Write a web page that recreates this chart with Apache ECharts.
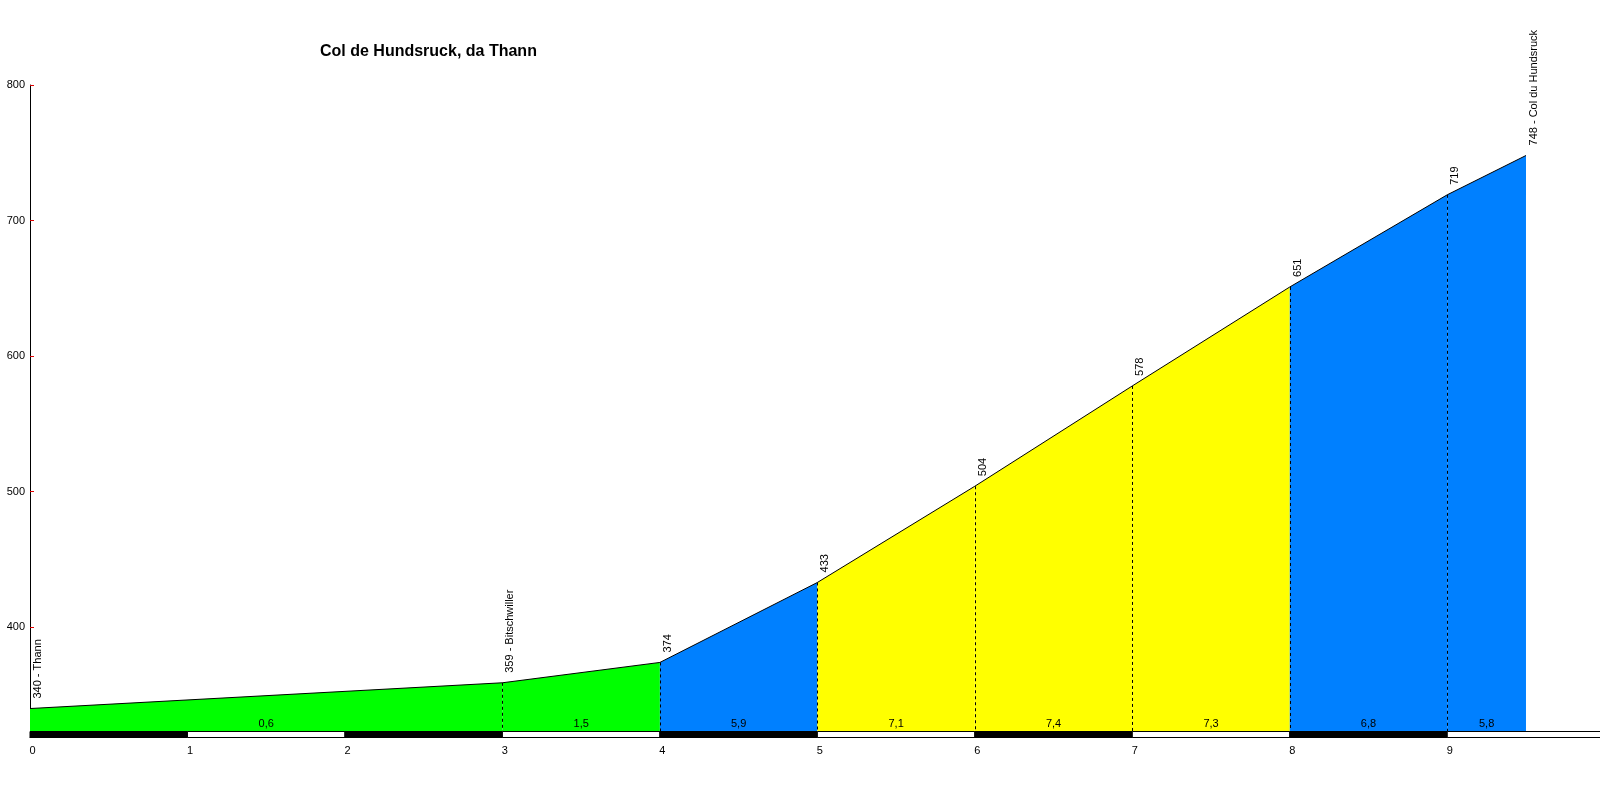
<!DOCTYPE html>
<html>
<head>
<meta charset="utf-8">
<script src="https://cdn.jsdelivr.net/npm/echarts@6/dist/echarts.min.js"></script>
<style>html,body{margin:0;padding:0;background:#fff}#c{width:1600px;height:800px}</style>
</head>
<body>
<div id="c"></div>
<script>
// ---- data ----
const title = 'Col de Hundsruck, da Thann';
const kms = [0, 3, 4, 5, 6, 7, 8, 9, 9.5];
const elev = [340, 359, 374, 433, 504, 578, 651, 719, 748];
const pointNames = ['Thann', 'Bitschwiller', '', '', '', '', '', '', 'Col du Hundsruck'];
const gradients = ['0,6', '1,5', '5,9', '7,1', '7,4', '7,3', '6,8', '5,8'];
const segColors = ['#00ff00', '#00ff00', '#0080ff', '#ffff00', '#ffff00', '#ffff00', '#0080ff', '#0080ff'];
const dashedKms = [3, 4, 5, 6, 7, 8, 9];
const stripKms = [0, 1, 2, 3, 4, 5, 6, 7, 8, 9, 10];
const yTicks = [400, 500, 600, 700, 800];
const xTicks = [0, 1, 2, 3, 4, 5, 6, 7, 8, 9];

const yMin = 319, yMax = 800, xMax = 9.97;
const FONT = '"Liberation Sans", Arial, sans-serif';
const STRIP = 6;

const chart = echarts.init(document.getElementById('c'), null, {renderer: 'canvas'});

const series = [];
// coloured profile segments
for (let i = 0; i < kms.length - 1; i++) {
  series.push({
    type: 'line',
    data: [[kms[i], elev[i]], [kms[i + 1], elev[i + 1]]],
    symbol: 'none',
    lineStyle: {color: '#000', width: 1},
    areaStyle: {color: segColors[i], opacity: 1, origin: 'start'},
    z: 2
  });
}
// dashed verticals
series.push({
  type: 'custom',
  clip: false,
  z: 3,
  data: dashedKms.map(k => [k, elev[kms.indexOf(k)]]),
  renderItem: (params, api) => {
    const top = api.coord([api.value(0), api.value(1)]);
    const bot = api.coord([api.value(0), yMin]);
    const x = Math.round(top[0]) + 0.5;
    return {type: 'line', shape: {x1: x, y1: top[1], x2: x, y2: bot[1] - STRIP},
      style: {stroke: '#000', lineWidth: 1, lineDash: [3, 3]}};
  }
});
// km strip
series.push({
  type: 'custom',
  clip: false,
  z: 5,
  data: stripKms.slice(0, -1).map((k, i) => [k, stripKms[i + 1], i % 2 === 0 ? 1 : 0]),
  renderItem: (params, api) => {
    const p0 = api.coord([api.value(0), yMin]);
    const p1 = api.coord([api.value(1), yMin]);
    const y = Math.round(p0[1]) - STRIP + 0.5;
    return {type: 'rect', shape: {x: p0[0], y: y, width: p1[0] - p0[0], height: STRIP},
      style: {fill: api.value(2) ? '#000' : '#fff', stroke: '#000', lineWidth: 1}};
  }
});
// gradient labels
series.push({
  type: 'custom',
  clip: false,
  z: 6,
  data: gradients.map((g, i) => [(kms[i] + kms[i + 1]) / 2, g]),
  renderItem: (params, api) => {
    const p = api.coord([api.value(0), yMin]);
    return {type: 'text', x: p[0], y: p[1] - STRIP - 7,
      style: {text: gradients[params.dataIndex], fill: '#000', font: '11px ' + FONT,
        align: 'center', verticalAlign: 'middle'}};
  }
});
// point labels
series.push({
  type: 'custom',
  clip: false,
  z: 6,
  data: kms.map((k, i) => [k, elev[i]]),
  renderItem: (params, api) => {
    const i = params.dataIndex;
    const p = api.coord([api.value(0), api.value(1)]);
    const txt = elev[i] + (pointNames[i] ? ' - ' + pointNames[i] : '');
    return {type: 'text', x: p[0] + 8, y: p[1] - 10, rotation: Math.PI / 2,
      style: {text: txt, fill: '#000', font: '11px ' + FONT, align: 'left', verticalAlign: 'middle'}};
  }
});

chart.setOption({
  animation: false,
  backgroundColor: '#fff',
  title: {
    text: title, left: 315, top: 39,
    textStyle: {fontFamily: FONT, fontSize: 16, fontWeight: 'bold', color: '#000'}
  },
  grid: {left: 30, top: 85, right: 0, bottom: 63, containLabel: false},
  xAxis: {
    type: 'value', min: 0, max: xMax,
    axisLine: {show: true, lineStyle: {color: '#000', width: 1}},
    axisTick: {show: false},
    splitLine: {show: false},
    axisLabel: {customValues: xTicks, margin: 8, padding: [0, 0, 0, 5], fontSize: 11, fontFamily: FONT, color: '#000'}
  },
  yAxis: {
    type: 'value', min: yMin, max: yMax,
    axisLine: {show: true, lineStyle: {color: '#000', width: 1}},
    axisTick: {show: true, inside: true, length: 4, customValues: yTicks, lineStyle: {color: '#e00000', width: 1}},
    splitLine: {show: false},
    axisLabel: {customValues: yTicks, margin: 5, fontSize: 11, fontFamily: FONT, color: '#000'}
  },
  series: series
});
</script>
</body>
</html>
